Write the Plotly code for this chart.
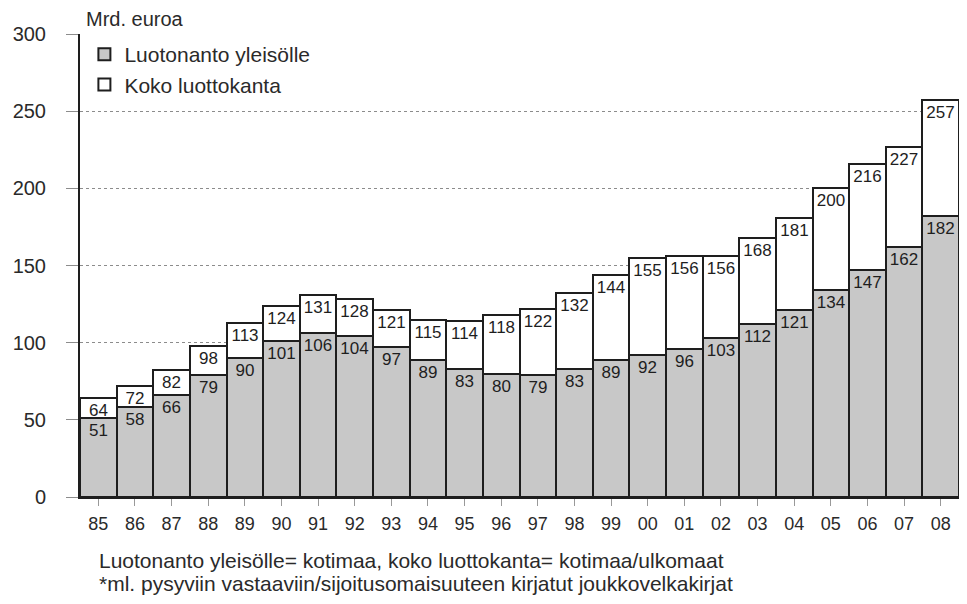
import plotly.graph_objects as go

years = ['85', '86', '87', '88', '89', '90', '91', '92', '93', '94', '95', '96',
         '97', '98', '99', '00', '01', '02', '03', '04', '05', '06', '07', '08']
koko = [64, 72, 82, 98, 113, 124, 131, 128, 121, 115, 114, 118,
        122, 132, 144, 155, 156, 156, 168, 181, 200, 216, 227, 257]
yleisolle = [51, 58, 66, 79, 90, 101, 106, 104, 97, 89, 83, 80,
             79, 83, 89, 92, 96, 103, 112, 121, 134, 147, 162, 182]

font = 'Liberation Sans, Arial, sans-serif'
narrow = 'Liberation Sans Narrow, Arial Narrow, sans-serif'
ink = '#1e1e1e'

fig = go.Figure()
fig.add_trace(go.Bar(
    x=years, y=koko, name='Koko luottokanta',
    marker=dict(color='white', line=dict(color=ink, width=2)),
    text=koko, textposition='inside', insidetextanchor='end', textangle=0,
    textfont=dict(size=17, color=ink, family=font),
))
fig.add_trace(go.Bar(
    x=years, y=yleisolle, name='Luotonanto yleisölle',
    marker=dict(color='#c8c8c8', line=dict(color=ink, width=2)),
    text=yleisolle, textposition='inside', insidetextanchor='end', textangle=0,
    textfont=dict(size=17, color=ink, family=font),
))

fig.update_layout(
    width=951, height=588,
    barmode='overlay', bargap=0,
    plot_bgcolor='white', paper_bgcolor='white',
    margin=dict(l=72, r=0, t=26, b=99),
    font=dict(family=font, size=16, color='#2a2a2a'),
    uniformtext=dict(minsize=15, mode='show'),
    legend=dict(x=0.005, y=1.0, xanchor='left', yanchor='top',
                traceorder='reversed', bgcolor='rgba(0,0,0,0)',
                font=dict(size=21), itemwidth=30),
    annotations=[
        dict(text='Mrd. euroa', x=0.004, y=1.0, xref='paper', yref='paper',
             xanchor='left', yanchor='bottom', showarrow=False, yshift=2,
             font=dict(size=20)),
        dict(text='Luotonanto yleisölle= kotimaa, koko luottokanta= kotimaa/ulkomaat',
             x=0.019, y=-0.138, xref='paper', yref='paper', xanchor='left', yanchor='middle',
             showarrow=False, align='left', font=dict(size=21, family=narrow)),
        dict(text='*ml. pysyviin vastaaviin/sijoitusomaisuuteen kirjatut joukkovelkakirjat',
             x=0.019, y=-0.186, xref='paper', yref='paper', xanchor='left', yanchor='middle',
             showarrow=False, align='left', font=dict(size=21, family=narrow)),
    ],
)

fig.update_yaxes(
    range=[0, 300], dtick=50, showgrid=True, gridcolor='#8c8c8c', griddash='dot',
    gridwidth=1, zeroline=False, showline=True, linecolor=ink, linewidth=2,
    ticks='outside', ticklen=12, tickcolor='#8c8c8c', tickfont=dict(size=20),
    ticklabelstandoff=16,
)
fig.update_xaxes(
    range=[-0.5, 23.5], showline=True, linecolor=ink, linewidth=2,
    ticks='outside', ticklen=7, tickcolor='#999', tickfont=dict(size=18),
    ticklabelstandoff=2,
)

fig.write_html("out.html")
